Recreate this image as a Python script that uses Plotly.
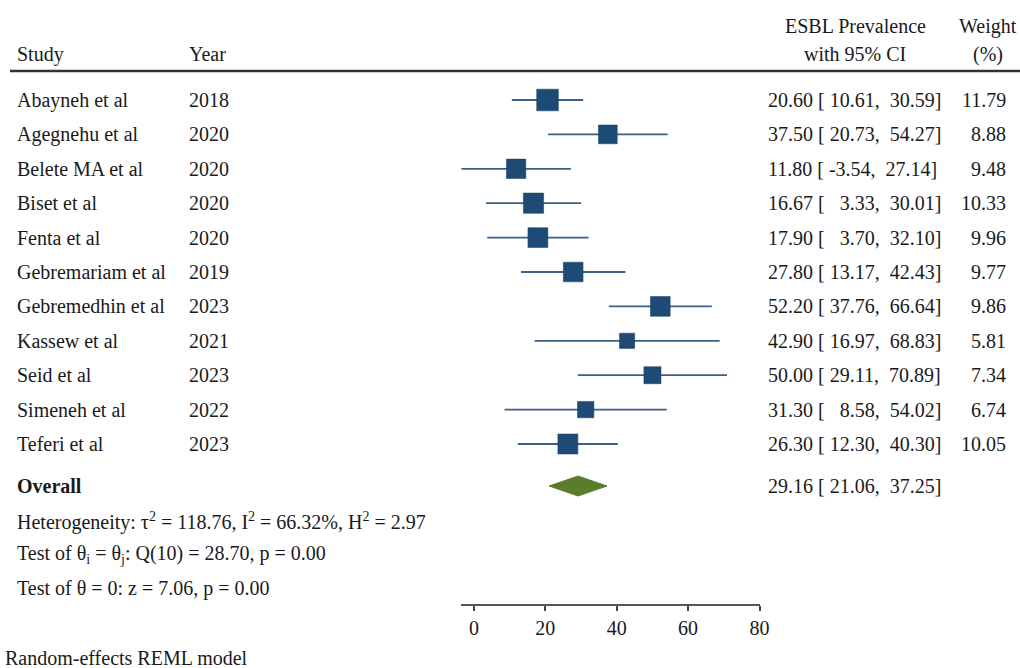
import plotly.graph_objects as go

# Study-level data
studies = ["Abayneh et al", "Agegnehu et al", "Belete MA et al", "Biset et al",
           "Fenta et al", "Gebremariam et al", "Gebremedhin et al", "Kassew et al",
           "Seid et al", "Simeneh et al", "Teferi et al"]
years = [2018, 2020, 2020, 2020, 2020, 2019, 2023, 2021, 2023, 2022, 2023]
prevalence = [20.60, 37.50, 11.80, 16.67, 17.90, 27.80, 52.20, 42.90, 50.00, 31.30, 26.30]
ci_low = [10.61, 20.73, -3.54, 3.33, 3.70, 13.17, 37.76, 16.97, 29.11, 8.58, 12.30]
ci_high = [30.59, 54.27, 27.14, 30.01, 32.10, 42.43, 66.64, 68.83, 70.89, 54.02, 40.30]
weights = [11.79, 8.88, 9.48, 10.33, 9.96, 9.77, 9.86, 5.81, 7.34, 6.74, 10.05]

# Pooled estimate
overall_est = 29.16
overall_low = 21.06
overall_high = 37.25

x_ticks = [0, 20, 40, 60, 80]

W, H = 1020, 668
FONT = "Liberation Serif"
TXT = "#1a1a1a"
SQ_COL = "#1e4b76"
LINE_COL = "#3b6189"
DIAMOND_COL = "#5b7c2c"
FIG_SPACE = "\u2007"

# vertical layout (y axis is in pixel units, top = 0)
row0, step = 100, 34.4
row_y = [row0 + i * step for i in range(len(studies))]
overall_y = 486

fig = go.Figure()

# confidence interval whiskers
for lo, hi, y in zip(ci_low, ci_high, row_y):
    fig.add_trace(go.Scatter(x=[lo, hi], y=[y, y], mode="lines",
                             line=dict(color=LINE_COL, width=1.8),
                             hoverinfo="skip", showlegend=False))

# weighted squares
fig.add_trace(go.Scatter(
    x=prevalence, y=row_y, mode="markers",
    marker=dict(symbol="square", color=SQ_COL, opacity=1,
                size=[6.3 * w ** 0.5 for w in weights],
                line=dict(color="#163a5e", width=0.5)),
    showlegend=False))

# pooled diamond
dh = 10
fig.add_trace(go.Scatter(
    x=[overall_low, overall_est, overall_high, overall_est, overall_low],
    y=[overall_y, overall_y - dh, overall_y, overall_y + dh, overall_y],
    mode="lines", fill="toself", fillcolor=DIAMOND_COL,
    line=dict(color=DIAMOND_COL, width=1), showlegend=False))


def ann(text, x, y, xanchor="left", size=20, bold=False):
    if bold:
        text = "<b>" + text + "</b>"
    fig.add_annotation(text=text, x=x / W, y=y, xref="paper", yref="y",
                       xanchor=xanchor, yanchor="middle", showarrow=False,
                       font=dict(family=FONT, size=size, color=TXT))


def ci_text(p, lo, hi):
    lo_s = f"{lo:.2f}".rjust(5).replace(" ", FIG_SPACE)
    hi_s = f"{hi:.2f}".rjust(5).replace(" ", FIG_SPACE)
    return f"{p:.2f} [ {lo_s},  {hi_s}]"


def sup(t):
    return f"<sup>{t}</sup>"


def sub(t):
    return f"<sub>{t}</sub>"


# header
ann("Study", 15, 54)
ann("Year", 187, 54)
ann("ESBL Prevalence", 855, 26, "center")
ann("with 95% CI", 855, 54, "center")
ann("Weight", 988, 26, "center")
ann("(%)", 988, 54, "center")

# rows
for s, yr, p, lo, hi, w, y in zip(studies, years, prevalence, ci_low, ci_high, weights, row_y):
    ann(s, 15, y)
    ann(str(yr), 187, y)
    ann(ci_text(p, lo, hi), 766, y)
    ann(f"{w:.2f}", 1008, y, "right")

ann("Overall", 15, overall_y, bold=True)
ann(ci_text(overall_est, overall_low, overall_high), 766, overall_y)

ann(f"Heterogeneity: τ{sup(2)} = 118.76, I{sup(2)} = 66.32%, H{sup(2)} = 2.97", 15, 521)
ann(f"Test of θ{sub('i')} = θ{sub('j')}: Q(10) = 28.70, p = 0.00", 15, 554)
ann("Test of θ = 0: z = 7.06, p = 0.00", 15, 588)
ann("Random-effects REML model", 3, 658)

# header rule
fig.add_shape(type="line", xref="paper", yref="y", x0=10 / W, x1=1.0, y0=71, y1=71,
              line=dict(color="#333333", width=2.5))

# axis geometry: 0 -> 474px, 80 -> 759.5px
px_per_unit = (759.5 - 474) / 80
x_min = -3.6
x_left_px = 474 + x_min * px_per_unit
fig.update_layout(
    width=W, height=H, margin=dict(l=0, r=0, t=0, b=0, autoexpand=False),
    plot_bgcolor="white", paper_bgcolor="white",
    xaxis=dict(domain=[x_left_px / W, 759.5 / W], range=[x_min, 80],
               anchor="free", position=(H - 605) / H, automargin=False,
               tickvals=x_ticks, ticks="outside", ticklen=5, tickwidth=1.5,
               tickcolor="#444444", showline=True, linecolor="#555555", linewidth=1.8,
               showgrid=False, zeroline=False,
               tickfont=dict(family=FONT, size=20, color=TXT)),
    yaxis=dict(domain=[0, 1], range=[H, 0], visible=False, showgrid=False,
               zeroline=False, automargin=False),
)

fig.write_html("out.html")
